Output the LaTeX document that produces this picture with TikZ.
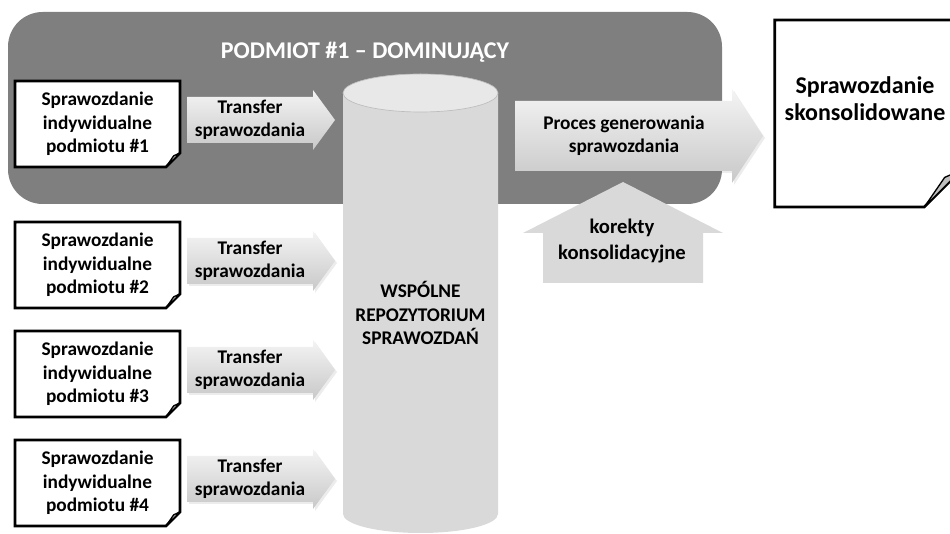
\documentclass[tikz,border=0pt]{standalone}
\usepackage{fontspec}
\setmainfont{Carlito}
\usetikzlibrary{calc,positioning,shadows}

\definecolor{domgray}{HTML}{7F7F7F}
\definecolor{repogray}{HTML}{D9D9D9}
\definecolor{repotop}{HTML}{E8E8E8}
\definecolor{repoedge}{HTML}{BDBDBD}
\definecolor{arrowlight}{HTML}{F4F4F4}
\definecolor{arrowdark}{HTML}{C8C8C8}
\definecolor{foldgray}{HTML}{BFBFBF}

\pgfdeclarelayer{bg}
\pgfdeclarelayer{paper}
\pgfsetlayers{bg,paper,main}

\tikzset{
  every node/.style={font=\bfseries\fontsize{14.5}{17.6}\selectfont, align=center},
  docnode/.style={minimum width={165*0.75pt}, minimum height={86*0.75pt}, inner sep=0pt, outer sep=0pt},
  container/.style={fill=domgray, rounded corners=26pt, minimum width=535.5pt, minimum height=144pt},
  titletext/.style={text=white, font=\bfseries\fontsize{18}{21}\selectfont},
  repo/.style={minimum width=116.25pt, minimum height=330pt, inner sep=0pt, outer sep=0pt},
  repobody/.style={fill=repogray},
  repolid/.style={fill=repotop, draw=repoedge, line width=0.5pt},
  pageline/.style={draw=black, line width=2pt, fill=white, line join=miter},
  foldline/.style={draw=black, line width=1pt, fill=foldgray, line join=round},
  arrowshade/.style={top color=arrowlight, bottom color=arrowdark,
    drop shadow={shadow xshift=1.5pt, shadow yshift=-1.5pt, opacity=0.15}},
  korefill/.style={fill=repogray},
}

% kartka z zagietym rogiem: lewy gorny, prawy dolny, rozmiar zagiecia
\newcommand{\pageoutline}[3]{%
  \filldraw[pageline] (#1) -- (#1 -| #2) -- ($(#2)+(0,-#3)$) -- ($(#2)+(-#3,0)$) -- (#1 |- #2) -- cycle;
  \filldraw[foldline] ($(#2)+(-#3,0)$) -- ($(#2)+({-0.45*#3},{-0.8*#3})$) -- ($(#2)+(0,-#3)$) -- cycle;
}
% strzalka blokowa: poczatek, grot, pol trzonu, pol grotu, dlugosc grotu
\newcommand{\blockarrow}[5]{%
  \path[arrowshade] ($(#1)+(0,-#3)$) -- ($(#2)+(-#5,-#3)$) -- ($(#2)+(-#5,-#4)$) -- (#2)
    -- ($(#2)+(-#5,#4)$) -- ($(#2)+(-#5,#3)$) -- ($(#1)+(0,#3)$) -- cycle;
}

\begin{document}
\begin{tikzpicture}[x=0.75pt,y=-0.75pt]
  % podmiot dominujacy
  \begin{pgfonlayer}{bg}
    \node[container] (dom) at (365,108) {};
  \end{pgfonlayer}
  \node[titletext] (domTitle) at (365,52) {PODMIOT \#1 – DOMINUJĄCY};

  % sprawozdania jednostkowe
  \node[docnode] (d1) at (97.5,124) {Sprawozdanie\\indywidualne\\podmiotu \#1};
  \node[docnode, below=41.25pt of d1] (d2) {Sprawozdanie\\indywidualne\\podmiotu \#2};
  \node[docnode, below=17.25pt of d2] (d3) {Sprawozdanie\\indywidualne\\podmiotu \#3};
  \node[docnode, below=17.25pt of d3] (d4) {Sprawozdanie\\indywidualne\\podmiotu \#4};

  % repozytorium (walec)
  \node[repo] (repo) at (420.5,313) {WSPÓLNE\\REPOZYTORIUM\\SPRAWOZDAŃ};
  \begin{pgfonlayer}{paper}
    \fill[repobody] (repo.north west) -- ($(repo.south west)+(0,-19)$)
      arc[start angle=180, end angle=360, x radius=58.125pt, y radius=14.25pt]
      -- (repo.north east)
      arc[start angle=0, end angle=180, x radius=58.125pt, y radius=14.25pt] -- cycle;
    \path[repolid] (repo.north) ellipse [x radius=58.125pt, y radius=14.25pt];
  \end{pgfonlayer}

  % sprawozdanie skonsolidowane
  \node[minimum width=140pt, minimum height=140.25pt, inner sep=0pt, outer sep=0pt] (cons) at (868,113.5) {};
  \node[font=\bfseries\fontsize{18}{20.5}\selectfont] (consText) at ($(cons.center)+(-3,-15)$) {Sprawozdanie\\skonsolidowane};

  \begin{pgfonlayer}{paper}
    \foreach \d in {d1,d2,d3,d4} {\pageoutline{\d.north west}{\d.south east}{14}}
    \pageoutline{cons.north west}{cons.south east}{37}
  \end{pgfonlayer}

  % transfer do repozytorium
  \foreach \i in {1,...,4} {
    \coordinate (trS\i) at ($(d\i.east)+(7,-4)$);
    \coordinate (trT\i) at ($(d\i.east)+(155,-4)$);
    \begin{pgfonlayer}{paper}
      \blockarrow{trS\i}{trT\i}{23}{30}{22}
    \end{pgfonlayer}
    \node (tr\i) at ($(trS\i)!0.5!(trT\i)+(-11,0)$) {Transfer\\sprawozdania};
  }

  % generowanie sprawozdania
  \coordinate (prS) at (515,136);
  \coordinate (prT) at (763,136);
  \begin{pgfonlayer}{paper}
    \blockarrow{prS}{prT}{35}{47}{31}
  \end{pgfonlayer}
  \node (proc) at ($(prS)!0.5!(prT)+(-15,0)$) {Proces generowania\\sprawozdania};

  % korekty
  \coordinate (korT) at (623,182);
  \begin{pgfonlayer}{paper}
    \fill[korefill] (korT) -- ++(100,51) -- ++(-20,0) -- ++(0,50) -- ++(-160,0) -- ++(0,-50) -- ++(-20,0) -- cycle;
  \end{pgfonlayer}
  \node[font=\bfseries\fontsize{15.5}{20}\selectfont] (kor) at (622,241) {korekty\\konsolidacyjne};

  % obszar strony
  \pgfresetboundingbox
  \useasboundingbox (0,0) rectangle (950,534);
\end{tikzpicture}
\end{document}
